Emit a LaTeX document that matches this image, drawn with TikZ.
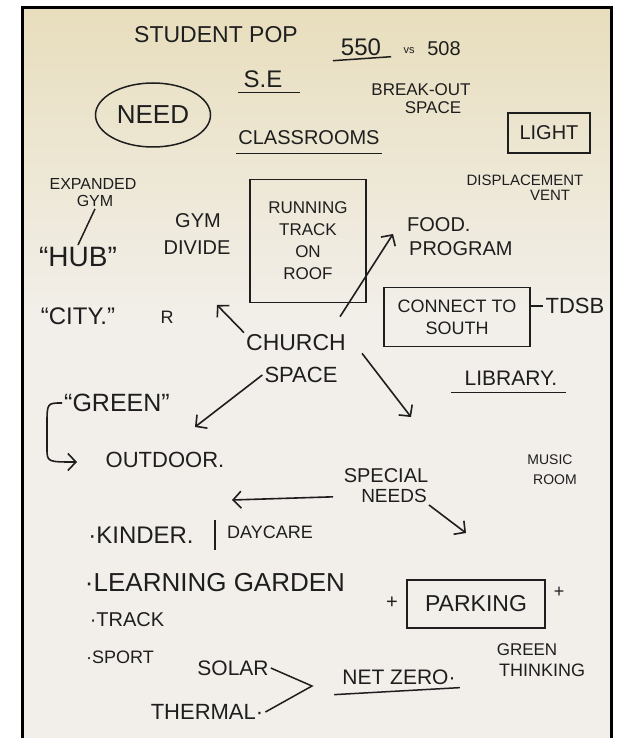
\documentclass[tikz,border=0pt]{standalone}
\usepackage{fontspec}
\setmainfont{Liberation Sans}
\usetikzlibrary{arrows.meta,shapes.geometric}
\definecolor{ink}{HTML}{1E1E1E}
\definecolor{papertop}{HTML}{E8DEBD}
\definecolor{paperbot}{HTML}{F2EFEA}

\begin{document}
\begin{tikzpicture}[x=1pt, y=-1pt,
  every node/.style={text=ink, inner sep=2pt},
  sz/.style={font=\fontsize{#1}{#1}\selectfont},
  pen/.style={draw=ink, line width=1.5pt},
  arr/.style={-{Straight Barb[length=8pt,width=17pt]}, draw=ink, line width=1.6pt}]
  \useasboundingbox (0,0) rectangle (616,738);

  % sheet and frame
  \fill[paperbot] (22,7) rectangle (612,738);
  \shade[top color=papertop, bottom color=paperbot] (22,7) rectangle (612,320);
  \draw[black, line width=3pt] (22.5,738) -- (22.5,8) -- (611.5,8) -- (611.5,738);

  % header
  \node[sz=23] (stud) at (216,35) {STUDENT POP};
  \node[sz=24] (n550) at (361,47) {550};
  \node[sz=11] (vs) at (409,51) {vs};
  \node[sz=20] (n508) at (444,49) {508};
  \node[sz=24] (se) at (263,79) {S.E};
  \node[sz=17] (brk) at (421,90) {BREAK-OUT};
  \node[sz=17] (brksp) at (433,108) {SPACE};
  \node[sz=26, ellipse, pen, minimum width=115pt, minimum height=64pt] (need) at (153,115) {NEED};
  \node[sz=20] (cls) at (309,138) {CLASSROOMS};
  \node[sz=20, pen, minimum width=82pt, minimum height=40pt] (light) at (549,133) {LIGHT};
  \node[sz=15] (disp) at (525,180) {DISPLACEMENT};
  \node[sz=15] (vent) at (550,195) {VENT};

  % left column
  \node[sz=16] (exp) at (93,184) {EXPANDED};
  \node[sz=16] (expgym) at (95,201) {GYM};
  \node[sz=28] (hub) at (78,257) {``HUB''};
  \node[sz=24] (city) at (78,316) {``CITY.''};
  \node[sz=18] (r) at (167,317) {R};
  \node[sz=20] (gym) at (198,221) {GYM};
  \node[sz=20] (divide) at (197,248) {DIVIDE};

  % middle
  \node[sz=17, pen, align=center, minimum width=116pt, minimum height=123pt] (track) at (308,241)
    {RUNNING\\[5pt]TRACK\\[5pt]ON\\[5pt]ROOF};
  \node[sz=20, anchor=west] (food) at (405,225) {FOOD.};
  \node[sz=20, anchor=west] (prog) at (407,249) {PROGRAM};
  \node[sz=18, pen, align=center, minimum width=146pt, minimum height=59pt] (conn) at (457,317)
    {CONNECT TO\\[4pt]SOUTH};
  \node[sz=22] (tdsb) at (575,306) {TDSB};
  \node[sz=23] (church) at (296,343) {CHURCH};
  \node[sz=22] (space) at (301,375) {SPACE};
  \node[sz=21] (lib) at (511,378) {LIBRARY.};
  \node[sz=25] (green) at (117,403) {``GREEN''};
  \node[sz=22] (outdoor) at (165,460) {OUTDOOR.};
  \node[sz=14] (music) at (550,460) {MUSIC};
  \node[sz=14] (room) at (555,480) {ROOM};
  \node[sz=20] (special) at (386,476) {SPECIAL};
  \node[sz=19] (needs) at (394,496) {NEEDS};

  % lists at the bottom
  \node[sz=24] (kinder) at (141,535) {·KINDER.};
  \node[sz=18] (daycare) at (270,532) {DAYCARE};
  \node[sz=26] (garden) at (215,583) {·LEARNING GARDEN};
  \node[sz=20] (plusl) at (392,603) {+};
  \node[sz=23, pen, minimum width=138pt, minimum height=48pt] (parking) at (476,604) {PARKING};
  \node[sz=18] (plusr) at (559,592) {+};
  \node[sz=20] (trk) at (127,620) {·TRACK};
  \node[sz=18] (sport) at (120,657) {·SPORT};
  \node[sz=21] (solar) at (233,668) {SOLAR};
  \node[sz=22] (thermal) at (207,712) {THERMAL·};
  \node[sz=21] (netzero) at (399,677) {NET ZERO·};
  \node[sz=17] (grn) at (527,650) {GREEN};
  \node[sz=18] (think) at (542,670) {THINKING};

  % free ends of the arrows
  \coordinate (gymtip) at (217,305);
  \coordinate (foodtip) at (393,234);
  \coordinate (swtip) at (195,427);
  \coordinate (setip) at (411,417);
  \coordinate (kidtip) at (232,500);
  \coordinate (needtip) at (466,533);
  \coordinate (outtip) at (77,462);
  \coordinate (nzmeet) at (312,686);

  % arrows out of the church space
  \draw[arr] (church.north west) -- (gymtip);
  \draw[arr] ([xshift=-8pt, yshift=16pt]church.north east) -- (foodtip);
  \draw[arr] (space.west) -- (swtip);
  \draw[arr] ([xshift=14pt]church.south east) -- (setip);

  % arrows out of special needs
  \draw[arr, shorten <=26pt] (needs.west) -- (kidtip);
  \draw[arr] (needs.south east) -- (needtip);

  % green bracket
  \draw[arr] (green.west) .. controls (47,403) .. (47,425) -- (47,448) .. controls (47,462) .. (outtip);

  % other strokes
  \draw[pen] (expgym.south) -- (hub.north);
  \draw[pen] (conn.east |- tdsb.west) -- (tdsb.west);
  \draw[pen] (solar.east) -- (nzmeet) -- (thermal.east);
  \draw[pen] ([xshift=-10pt, yshift=3pt]daycare.north west) -- ([xshift=-10pt, yshift=-9pt]daycare.south west);

  % underlines
  \draw[pen] ([xshift=-6pt, yshift=-3pt]n550.south west) -- ([xshift=8pt, yshift=1pt]n550.south east);
  \draw[pen] ([xshift=-3pt, yshift=-3pt]se.south west) -- ([xshift=15pt, yshift=-3pt]se.south east);
  \draw[pen] ([yshift=-6pt]cls.south west) -- ([yshift=-6pt]cls.south east);
  \draw[pen] ([xshift=-12pt, yshift=-5pt]lib.south west) -- ([xshift=6pt, yshift=-5pt]lib.south east);
  \draw[pen] ([xshift=-6pt, yshift=-8pt]netzero.south west) -- ([xshift=2pt, yshift=-1pt]netzero.south east);
\end{tikzpicture}
\end{document}
